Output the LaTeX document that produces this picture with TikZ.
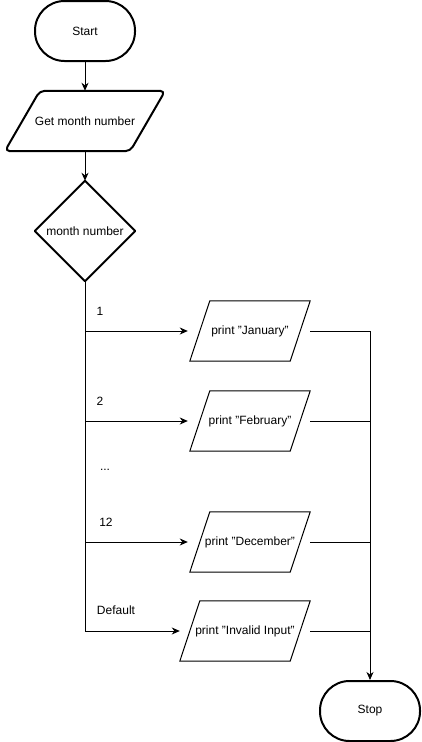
\documentclass[tikz,border=0pt]{standalone}
\usepackage{fontspec}
\setmainfont{Liberation Sans}
\usetikzlibrary{arrows.meta}
\begin{document}
\begin{tikzpicture}[x=1pt,y=-1pt,
  font=\fontsize{12}{14}\selectfont,
  term/.style={draw, line width=2pt, rounded corners=29.5pt, minimum width=100pt, minimum height=60pt, inner sep=0pt},
  box/.style={inner sep=0pt, minimum height=60pt},
  thickline/.style={line width=2pt, line join=round},
  thinline/.style={line width=1pt},
  arr/.style={thinline, -{Stealth[length=8pt, width=7pt, inset=2.5pt]}},
  lbl/.style={inner sep=0pt}
]
\useasboundingbox (0,0) rectangle (421,742);

% nodes
\node[term] (start) at (85,31) {Start};
\node[box, minimum width=160pt] (get) at (85,121) {Get month number};
\node[box, minimum width=100pt, minimum height=100pt] (dec) at (85,231) {month number};
\node[box, minimum width=120pt] (jan) at (250,331) {print "January"};
\node[box, minimum width=120pt] (feb) at (250,421) {print "February"};
\node[box, minimum width=120pt] (dcm) at (250,542) {print "December"};
\node[box, minimum width=130pt] (inv) at (245,631) {print "Invalid Input"};
\node[term] (stop) at (370,711) {Stop};

% outlines
\draw[thickline, rounded corners=5pt] ([xshift=35pt]get.north west) -- (get.north east) -- ([xshift=-35pt]get.south east) -- (get.south west) -- cycle;
\draw[thickline] (dec.north) -- (dec.east) -- (dec.south) -- (dec.west) -- cycle;
\foreach \n in {jan,feb,dcm,inv}{
  \draw[thinline] ([xshift=20pt]\n.north west) -- (\n.north east) -- ([xshift=-20pt]\n.south east) -- (\n.south west) -- cycle;
}

% labels
\node[lbl] (l1) at (100,311) {1};
\node[lbl] (l2) at (100,401) {2};
\node[lbl] (ldots) at (105,470) {...};
\node[lbl] (l12) at (106,522) {12};
\node[lbl] (ldef) at (116,610) {Default};

% coordinates
\coordinate (b1) at (85,331);
\coordinate (b2) at (85,421);
\coordinate (b12) at (85,542);
\coordinate (bd) at (85,631);
\coordinate (r1) at (370,331);
\coordinate (r2) at (370,421);
\coordinate (r12) at (370,542);
\coordinate (rd) at (370,631);

% connectors
\draw[arr] (start.south) -- (get.north);
\draw[arr] (get.south) -- (dec.north);
\draw[thinline] (dec.south) -- (bd);
\draw[arr, shorten >=2pt] (b1) -- (jan.west);
\draw[arr, shorten >=2pt] (b2) -- (feb.west);
\draw[arr, shorten >=2pt] (b12) -- (dcm.west);
\draw[arr, shorten >=0pt] (bd) -- (inv.west);
\draw[thinline] (jan.east) -- (r1);
\draw[thinline] (feb.east) -- (r2);
\draw[thinline] (dcm.east) -- (r12);
\draw[thinline] (inv.east) -- (rd);
\draw[arr] (r1) -- (stop.north);
\end{tikzpicture}
\end{document}
